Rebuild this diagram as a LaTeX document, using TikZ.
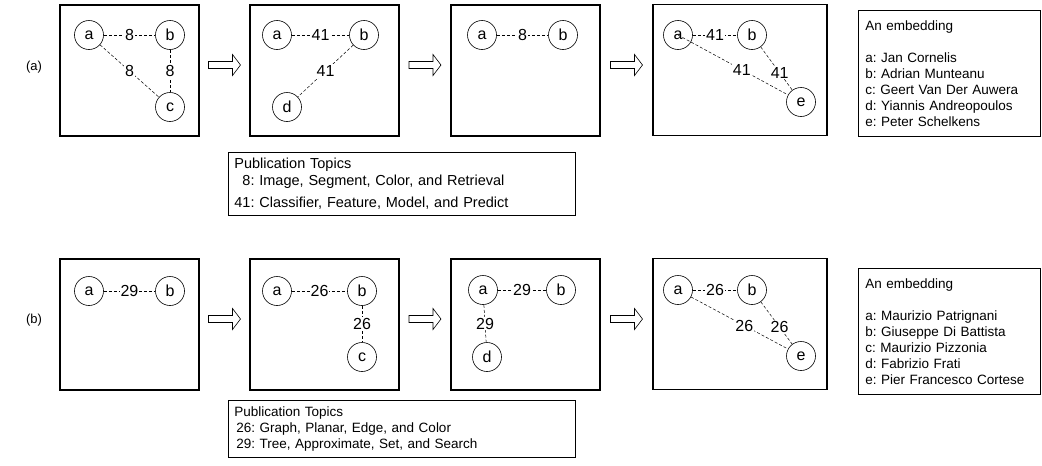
\documentclass[tikz,border=0pt]{standalone}
\usepackage{fontspec}
\setmainfont{Liberation Sans}
\frenchspacing

\tikzset{
  panel/.style={draw, line width=1.1pt, minimum width=#1, minimum height=131pt, inner sep=0pt},
  vertex/.style={draw, circle, minimum size=29pt, inner sep=0pt, line width=0.6pt, font=\fontsize{16}{18}\selectfont},
  link/.style={dashed, dash pattern=on 3pt off 2pt, line width=0.5pt},
  lab/.style={fill=white, inner sep=1pt, font=\fontsize{16}{18}\selectfont},
  infobox/.style={draw, line width=0.8pt, align=left, anchor=north west, inner xsep=7pt, inner ysep=6pt, font=\fontsize{13.5}{16}\selectfont},
  flowarrow/.pic={\draw[line width=0.6pt, fill=white] (-16,-3.5) -- (8,-3.5) -- (8,-10.5) -- (16,0) -- (8,10.5) -- (8,3.5) -- (-16,3.5) -- cycle;}
}

\begin{document}
\begin{tikzpicture}[x=1pt, y=-1pt]
        \useasboundingbox (0,0) rectangle (1042,466);

        % first row
        \node[font=\fontsize{13}{15}\selectfont] (rowA) at (34,67) {(a)};
        \node[panel=139pt] (P1) at (129.5,70.5) {};
        \node[panel=149pt] (P2) at (324.5,70.5) {};
        \node[panel=149pt] (P3) at (525.5,70.5) {};
        \node[panel=174pt] (P4) at (740,70) {};
        \pic at (224.5,65) {flowarrow};
        \pic at (425,65) {flowarrow};
        \pic at (626.5,65) {flowarrow};

        \node[vertex] (a1) at (89,35) {a};
        \node[vertex] (b1) at (170,35) {b};
        \node[vertex] (c1) at (170,107) {c};
        \draw[link] (a1) -- node[lab] {8} (b1);
        \draw[link] (a1) -- node[lab] {8} (c1);
        \draw[link] (b1) -- node[lab] {8} (c1);

        \node[vertex] (a2) at (277,35) {a};
        \node[vertex] (b2) at (364,35) {b};
        \node[vertex] (d2) at (287,107) {d};
        \draw[link] (a2) -- node[lab] {41} (b2);
        \draw[link] (b2) -- node[lab] {41} (d2);

        \node[vertex] (a3) at (482,35) {a};
        \node[vertex] (b3) at (563,35) {b};
        \draw[link] (a3) -- node[lab] {8} (b3);

        \node[vertex] (a4) at (678,35) {a};
        \node[vertex] (b4) at (752,35) {b};
        \node[vertex] (e4) at (801,102) {e};
        \draw[link] (a4) -- node[lab] {41} (b4);
        \draw[link] (a4.center) -- node[lab, pos=0.58] {41} (e4);
        \draw[link] (b4) -- node[lab, pos=0.6] {41} (e4);

        \node[infobox, text width=168pt, minimum height=126pt] (embA) at (858,10)
          {An embedding\\[16pt]
           a: Jan Cornelis\\
           b: Adrian Munteanu\\
           c: Geert Van Der Auwera\\
           d: Yiannis Andreopoulos\\
           e: Peter Schelkens};
        \node[infobox, text width=335pt, inner xsep=6pt, font=\fontsize{14.5}{17}\selectfont] (topA) at (228,152)
          {Publication Topics\\
           \hphantom{4}8: Image, Segment, Color, and Retrieval\\[5pt]
           41: Classifier, Feature, Model, and Predict};

        % second row
        \node[font=\fontsize{13}{15}\selectfont] (rowB) at (34,320) {(b)};
        \node[panel=139pt] (P5) at (129.5,324.5) {};
        \node[panel=149pt] (P6) at (324.5,324.5) {};
        \node[panel=149pt] (P7) at (525.5,324.5) {};
        \node[panel=174pt] (P8) at (740,324) {};
        \pic at (224.5,319) {flowarrow};
        \pic at (425,319) {flowarrow};
        \pic at (626.5,319) {flowarrow};

        \node[vertex] (a5) at (89,291) {a};
        \node[vertex] (b5) at (170,291) {b};
        \draw[link] (a5) -- node[lab] {29} (b5);

        \node[vertex] (a6) at (277,291) {a};
        \node[vertex] (b6) at (362,291) {b};
        \node[vertex] (c6) at (362,357) {c};
        \draw[link] (a6) -- node[lab] {26} (b6);
        \draw[link] (b6) -- node[lab] {26} (c6);

        \node[vertex] (a7) at (483,290) {a};
        \node[vertex] (b7) at (561,290) {b};
        \node[vertex] (d7) at (487,357) {d};
        \draw[link] (a7) -- node[lab] {29} (b7);
        \draw[link] (a7) -- node[lab] {29} (d7);

        \node[vertex] (a8) at (678,290) {a};
        \node[vertex] (b8) at (752,290) {b};
        \node[vertex] (e8) at (801,356) {e};
        \draw[link] (a8) -- node[lab] {26} (b8);
        \draw[link] (a8) -- node[lab, pos=0.55] {26} (e8);
        \draw[link] (b8) -- node[lab, pos=0.6] {26} (e8);

        \node[infobox, text width=168pt, minimum height=126pt] (embB) at (858,268)
          {An embedding\\[16pt]
           a: Maurizio Patrignani\\
           b: Giuseppe Di Battista\\
           c: Maurizio Pizzonia\\
           d: Fabrizio Frati\\
           e: Pier Francesco Cortese};
        \node[infobox, text width=335pt, inner xsep=6pt] (topB) at (228,400)
          {Publication Topics\\
           \hspace{2pt}26: Graph, Planar, Edge, and Color\\
           \hspace{2pt}29: Tree, Approximate, Set, and Search};
    \end{tikzpicture}
\end{document}
